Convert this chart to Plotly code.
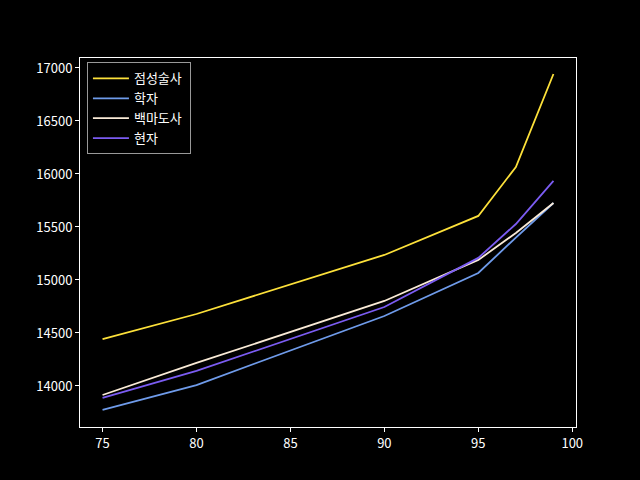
import plotly.graph_objects as go

x_vals = [75, 80, 90, 95, 97, 99]
series_names = ["점성술사", "학자", "백마도사", "현자"]
yellow_vals = [14443, 14679, 15236, 15604, 16066, 16943]
blue_vals = [13774, 14009, 14660, 15066, 15400, 15726]
white_vals = [13915, 14217, 14802, 15189, 15443, 15726]
purple_vals = [13887, 14142, 14745, 15208, 15528, 15934]
colors = ["#FDE13A", "#6F9BEA", "#FAEBD7", "#7B5CF2"]

FONT = "Noto Sans CJK KR"
fig = go.Figure()
for name, vals, c in zip(series_names, [yellow_vals, blue_vals, white_vals, purple_vals], colors):
    fig.add_trace(go.Scatter(x=x_vals, y=vals, mode="lines", name=name + " ",
                             line=dict(color=c, width=1.8)))

fig.update_layout(
    width=640, height=480,
    paper_bgcolor="black", plot_bgcolor="black",
    margin=dict(l=80, r=64, t=58, b=53),
    font=dict(family=FONT, size=13, color="white"),
    showlegend=True,
    legend=dict(x=0.014, y=0.988, xanchor="left", yanchor="top",
                bgcolor="black", bordercolor="#999999", borderwidth=1,
                font=dict(family=FONT, size=13, color="white"),
                tracegroupgap=0, itemwidth=36),
    xaxis=dict(range=[73.8, 100.2], tickvals=[75, 80, 85, 90, 95, 100],
               showgrid=False, zeroline=False, showline=True, linecolor="white",
               linewidth=1, mirror=True, ticks="outside", ticklen=4, tickcolor="white",
               tickfont=dict(family=FONT, size=13, color="white")),
    yaxis=dict(range=[13613, 17094], tickvals=[14000, 14500, 15000, 15500, 16000, 16500, 17000],
               tickformat="d",
               showgrid=False, zeroline=False, showline=True, linecolor="white",
               linewidth=1, mirror=True, ticks="outside", ticklen=4, tickcolor="white",
               tickfont=dict(family=FONT, size=13, color="white")),
)
fig.write_html("out.html")
